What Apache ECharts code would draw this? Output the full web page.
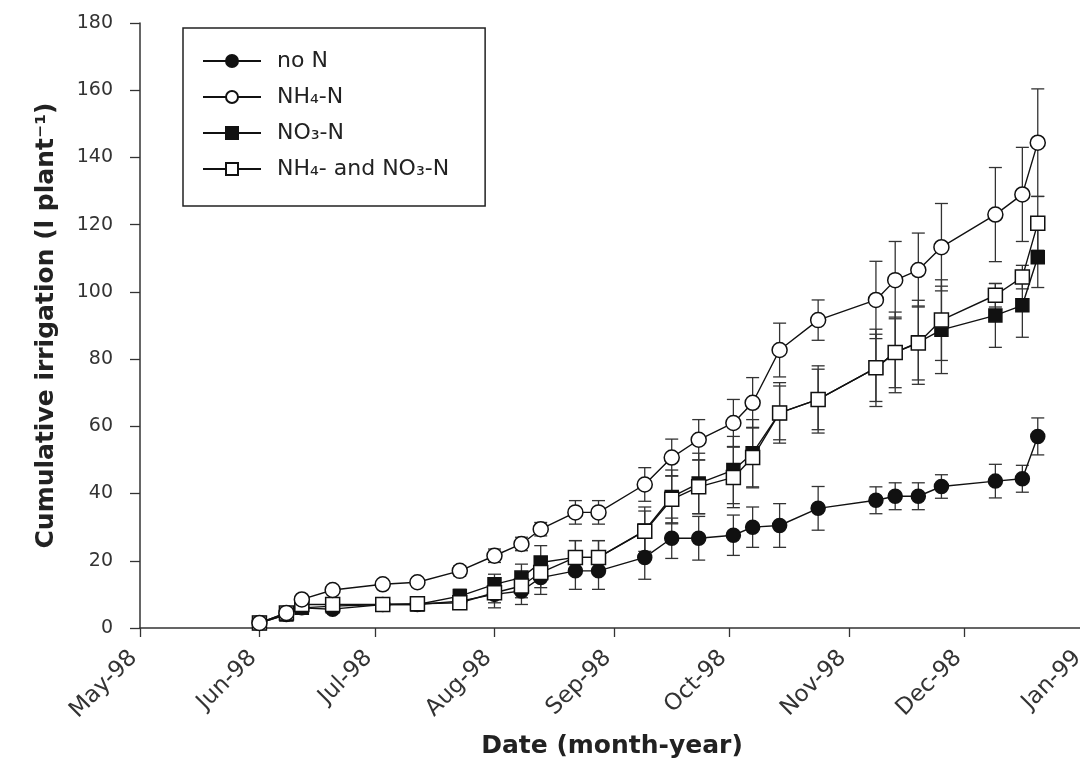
<!DOCTYPE html>
<html>
<head>
<meta charset="utf-8">
<script src="https://cdn.jsdelivr.net/npm/echarts@6/dist/echarts.min.js"></script>
<style>
  html, body { margin: 0; padding: 0; background: #fff; overflow: hidden; }
  /* axis runs a few px past the right edge, as in the scan */
  #chart { width: 1084px; height: 760px; }
</style>
</head>
<body>
<div id="chart"></div>
<script>
// sampling dates (shared by all treatments)
const dates = ['1998-06-01', '1998-06-08', '1998-06-12', '1998-06-20', '1998-07-03', '1998-07-12',
  '1998-07-23', '1998-08-01', '1998-08-08', '1998-08-13', '1998-08-22', '1998-08-28',
  '1998-09-09', '1998-09-16', '1998-09-23', '1998-10-02', '1998-10-07', '1998-10-14',
  '1998-10-24', '1998-11-08', '1998-11-13', '1998-11-19', '1998-11-25', '1998-12-09',
  '1998-12-16', '1998-12-20'];

// cumulative irrigation, l per plant
const noN = [1.5, 4, 6, 5.6, 7, 7, 8, 10, 11, 15, 17, 17, 21, 26.7, 26.7, 27.6, 30, 30.5,
  35.6, 38, 39.2, 39.2, 42.1, 43.7, 44.4, 57];
const nh4 = [1.5, 4.5, 8.5, 11.3, 13, 13.6, 17, 21.5, 25, 29.4, 34.4, 34.4, 42.7, 50.7, 56,
  61, 67, 82.7, 91.6, 97.6, 103.5, 106.5, 113.3, 123, 129, 144.4];
const no3 = [1.5, 4, 6, 6.5, 7, 7, 9.5, 13, 15, 19.5, 21, 21, 29, 39, 43, 47, 52, 64, 68,
  77.4, 82, 85, 88.7, 93, 96, 110.3];
const both = [1.5, 4.5, 7, 7, 7, 7.2, 7.5, 10.5, 12.5, 16.5, 21, 21, 28.8, 38.3, 42, 44.8,
  50.7, 64, 68, 77.4, 82, 84.8, 91.6, 99, 104.4, 120.4];

// standard errors (half bar length)
const noNErr = [0, 0.5, 1, 1, 1, 1, 1.5, 4, 4, 5, 5.5, 5.5, 6.5, 6, 6.5, 6, 6, 6.5, 6.5, 4,
  4, 4, 3.5, 5, 4, 5.5];
const nh4Err = [0, 0.5, 1, 1, 1, 1, 1.5, 2, 2, 2, 3.5, 3.5, 5, 5.5, 6, 7, 7.5, 8, 6, 11.5,
  11.5, 11, 13, 14, 14, 16];
const no3Err = [0, 0.5, 1, 1, 1, 1, 2, 3, 4, 5, 5, 5, 7, 8, 9, 10, 10, 9, 10, 11.5, 12,
  12.5, 13, 9.5, 9.5, 9];
const bothErr = [0, 0.5, 1, 1, 1, 1, 1.5, 3, 3.5, 4.5, 5, 5, 6, 7, 8, 9, 9, 8, 9, 10, 10.5,
  11, 12, 3.5, 3.5, 8];

const monthLabels = ['May-98', 'Jun-98', 'Jul-98', 'Aug-98', 'Sep-98', 'Oct-98', 'Nov-98',
  'Dec-98', 'Jan-99'];
const monthStarts = ['1998-05-01', '1998-06-01', '1998-07-01', '1998-08-01', '1998-09-01',
  '1998-10-01', '1998-11-01', '1998-12-01', '1999-01-01'];

// days counted from 1 May 1998
const DAY = 86400000;
const origin = Date.UTC(1998, 4, 1);
function toDay(s) {
  const p = s.split('-');
  return Math.round((Date.UTC(+p[0], +p[1] - 1, +p[2]) - origin) / DAY);
}
const monthTicks = monthStarts.map(toDay);

function pairs(vals) {
  return dates.map((d, i) => [toDay(d), vals[i]]);
}
function errData(vals, errs) {
  let out = [];
  for (let i = 0; i < dates.length; i++) {
    if (errs[i] > 0) out.push([toDay(dates[i]), vals[i] - errs[i], vals[i] + errs[i]]);
  }
  return out;
}

function renderErr(params, api) {
  const x = api.value(0);
  const top = api.coord([x, api.value(2)]);
  const bot = api.coord([x, api.value(1)]);
  const w = 6.5;
  const st = { stroke: '#333', lineWidth: 1.3 };
  return {
    type: 'group',
    children: [
      { type: 'line', shape: { x1: top[0], y1: top[1], x2: bot[0], y2: bot[1] }, style: st },
      { type: 'line', shape: { x1: top[0] - w, y1: top[1], x2: top[0] + w, y2: top[1] }, style: st },
      { type: 'line', shape: { x1: bot[0] - w, y1: bot[1], x2: bot[0] + w, y2: bot[1] }, style: st }
    ]
  };
}

function lineSeries(name, vals, symbol, fill, size) {
  return {
    name: name,
    type: 'line',
    data: pairs(vals),
    symbol: symbol,
    symbolSize: size,
    showAllSymbol: true,
    lineStyle: { color: '#111', width: 1.4 },
    itemStyle: { color: fill, borderColor: '#111', borderWidth: 1.5 },
    emphasis: { disabled: true },
    z: 3
  };
}

function errSeries(vals, errs) {
  return {
    type: 'custom',
    renderItem: renderErr,
    data: errData(vals, errs),
    silent: true,
    z: 1
  };
}

const names = ['no N', 'NH\u2084-N', 'NO\u2083-N', 'NH\u2084- and NO\u2083-N'];

let chart = echarts.init(document.getElementById('chart'));

let option = {
  backgroundColor: '#fff',
  animation: false,
  textStyle: { fontFamily: 'DejaVu Sans, sans-serif' },
  grid: { left: 140, right: 0, top: 23, bottom: 132, outerBoundsMode: 'none', containLabel: false },
  legend: {
    data: names,
    orient: 'vertical',
    left: 183,
    top: 28,
    padding: [22, 36, 26, 19],
    itemGap: 14,
    itemWidth: 58,
    itemHeight: 15,
    borderColor: '#222',
    borderWidth: 1.5,
    backgroundColor: '#fff',
    textStyle: { fontSize: 22, color: '#222', padding: [0, 0, 0, 11] }
  },
  xAxis: {
    type: 'value',
    min: monthTicks[0],
    max: monthTicks[monthTicks.length - 1],
    name: 'Date (month-year)',
    nameLocation: 'middle',
    nameGap: 106,
    nameTextStyle: { fontSize: 25, fontWeight: 'bold', color: '#222' },
    axisLine: { lineStyle: { color: '#333', width: 1.5 } },
    axisTick: { show: true, length: 9, customValues: monthTicks, lineStyle: { color: '#333', width: 1.3 } },
    axisLabel: {
      customValues: monthTicks,
      rotate: 45,
      fontSize: 23,
      color: '#333',
      margin: 20,
      padding: [0, 9, 0, 0],
      formatter: function (v) {
        const i = monthTicks.indexOf(v);
        return i >= 0 ? monthLabels[i] : '';
      }
    },
    splitLine: { show: false }
  },
  yAxis: {
    type: 'value',
    min: 0,
    max: 180,
    interval: 20,
    name: 'Cumulative irrigation (l plant\u207B\u00B9)',
    nameLocation: 'middle',
    nameGap: 81,
    nameTextStyle: { fontSize: 25, fontWeight: 'bold', color: '#222' },
    axisLine: { show: true, lineStyle: { color: '#333', width: 1.5 } },
    axisTick: { show: true, length: 10, lineStyle: { color: '#333', width: 1.3 } },
    axisLabel: { fontSize: 19, color: '#333', margin: 27 },
    splitLine: { show: false }
  },
  series: [
    errSeries(noN, noNErr),
    errSeries(nh4, nh4Err),
    errSeries(no3, no3Err),
    errSeries(both, bothErr),
    lineSeries(names[0], noN, 'circle', '#111', 14),
    lineSeries(names[2], no3, 'rect', '#111', 13),
    lineSeries(names[3], both, 'rect', '#fff', 14),
    lineSeries(names[1], nh4, 'circle', '#fff', 15)
  ]
};

chart.setOption(option);
</script>
</body>
</html>
